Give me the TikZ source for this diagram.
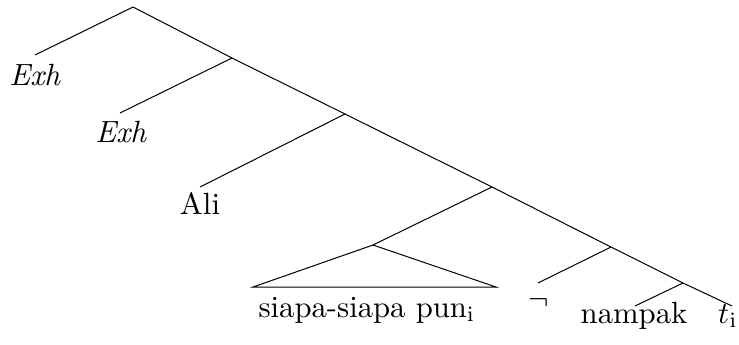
\documentclass[tikz,border=0pt]{standalone}
\newcommand{\lbltext}[1]{\scalebox{1.535}{#1}}
\begin{document}
\begin{tikzpicture}[x=0.5pt,y=-0.5pt,line width=0.5pt,
  lbl/.style={inner sep=0pt,anchor=base},
  branch/.style={line join=miter}]
\useasboundingbox (0,0) rectangle (739,344);
% internal points of the tree
\coordinate (root) at (133,7);
\coordinate (a) at (232,58);
\coordinate (b) at (345,114);
\coordinate (c) at (492,187);
\coordinate (d) at (611,247);
\coordinate (e) at (683,283);
\coordinate (f) at (373,245);
% ends of the branches above the leaves
\coordinate (exh1top) at (35,55);
\coordinate (exh2top) at (120,113);
\coordinate (alitop) at (200,187);
\coordinate (negtop) at (538,283);
\coordinate (namtop) at (635,306);
\coordinate (ttop) at (732,306);
\coordinate (tl) at (253,287);
\coordinate (tr) at (496,287);
% leaves
\node[lbl] (exh1) at (35,85) {\lbltext{\textit{Exh}}};
\node[lbl] (exh2) at (121,142) {\lbltext{\textit{Exh}}};
\node[lbl] (ali) at (200,214) {\lbltext{Ali}};
\node[lbl] (dp) at (367,317) {\lbltext{siapa-siapa pun$_{\mathrm{i}}$}};
\node[lbl,anchor=center] (neg) at (539,303) {\lbltext{$\neg$}};
\node[lbl] (nampak) at (634,323) {\lbltext{nampak}};
\node[lbl] (t) at (728,323) {\lbltext{$t_{\mathrm{i}}$}};
% branches
\draw[branch] (root) -- (a) -- (b) -- (c) -- (d) -- (e) -- (ttop);
\draw[branch] (root) -- (exh1top);
\draw[branch] (a) -- (exh2top);
\draw[branch] (b) -- (alitop);
\draw[branch] (c) -- (f);
\draw[branch] (d) -- (negtop);
\draw[branch] (e) -- (namtop);
\draw[branch] (f) -- (tl) -- (tr) -- cycle;
\end{tikzpicture}
\end{document}
